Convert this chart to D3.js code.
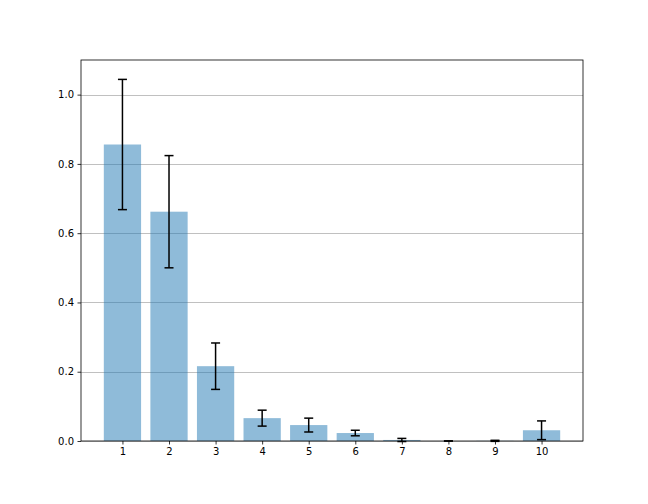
<!DOCTYPE html>
<html>
<head>
<meta charset="utf-8">
<script src="https://cdn.jsdelivr.net/npm/d3@7"></script>
<style>
  body { margin:0; background:#fff; }
  svg { display:block; font-family:"DejaVu Sans", sans-serif; }
</style>
</head>
<body>
<div id="chart"></div>
<script>
const categories = [1, 2, 3, 4, 5, 6, 7, 8, 9, 10];
const means = [0.856, 0.662, 0.216, 0.066, 0.046, 0.023, 0.003, 0.0, 0.0005, 0.031];
const errors = [0.188, 0.162, 0.067, 0.023, 0.020, 0.008, 0.0045, 0.0, 0.0015, 0.027];
const yTicks = [0.0, 0.2, 0.4, 0.6, 0.8, 1.0];

const W = 648, H = 504;
const margin = {left:81, right:65, top:60, bottom:63};

const svg = d3.select('#chart').append('svg')
  .attr('width', W)
  .attr('height', H);

const x = d3.scaleLinear()
  .domain([0.11, 10.89])
  .range([margin.left, W - margin.right]);

const y = d3.scaleLinear()
  .domain([0, 1.1])
  .range([H - margin.bottom, margin.top]);

// grid
svg.append('g')
  .selectAll('line')
  .data(yTicks)
  .join('line')
  .attr('x1', margin.left)
  .attr('x2', W - margin.right)
  .attr('y1', d => Math.round(y(d)) + 0.5)
  .attr('y2', d => Math.round(y(d)) + 0.5)
  .attr('stroke', '#b0b0b0')
  .attr('stroke-width', 0.8);

const barW = x(0.8) - x(0);

// bars
svg.append('g')
  .selectAll('rect')
  .data(categories)
  .join('rect')
  .attr('x', (d, i) => x(d) - barW / 2)
  .attr('y', (d, i) => y(means[i]))
  .attr('width', barW)
  .attr('height', (d, i) => y(0) - y(means[i]))
  .attr('fill', '#1f77b4')
  .attr('fill-opacity', 0.5);

// error bars
const eb = svg.append('g')
  .attr('stroke', '#000')
  .attr('stroke-width', 1.5);

categories.forEach((c, i) => {
  const lo = means[i] - errors[i], hi = means[i] + errors[i];
  const cx = x(c);
  eb.append('line')
    .attr('x1', cx).attr('x2', cx)
    .attr('y1', y(lo)).attr('y2', y(hi));
  [lo, hi].forEach(v => {
    eb.append('line')
      .attr('x1', cx - 4.5).attr('x2', cx + 4.5)
      .attr('y1', y(v)).attr('y2', y(v));
  });
});

// axes
const xAxis = d3.axisBottom(x)
  .tickValues(categories)
  .tickFormat(d3.format('d'))
  .tickSizeInner(3.5)
  .tickSizeOuter(0)
  .tickPadding(3.5);

const yAxis = d3.axisLeft(y)
  .tickValues(yTicks)
  .tickFormat(d3.format('.1f'))
  .tickSizeInner(3.5)
  .tickSizeOuter(0)
  .tickPadding(3.5);

const gx = svg.append('g')
  .attr('transform', `translate(0,${H - margin.bottom})`)
  .call(xAxis);
const gy = svg.append('g')
  .attr('transform', `translate(${margin.left},0)`)
  .call(yAxis);

[gx, gy].forEach(g => {
  g.select('.domain').remove();
  g.selectAll('.tick line').attr('stroke', '#000').attr('stroke-width', 0.8);
  g.selectAll('.tick text').attr('fill', '#000').attr('font-size', 10)
    .attr('font-family', '"DejaVu Sans", sans-serif');
});

// frame
svg.append('rect')
  .attr('x', margin.left)
  .attr('y', margin.top)
  .attr('width', W - margin.left - margin.right)
  .attr('height', H - margin.top - margin.bottom)
  .attr('fill', 'none')
  .attr('stroke', '#000')
  .attr('stroke-width', 0.8);
</script>
</body>
</html>
